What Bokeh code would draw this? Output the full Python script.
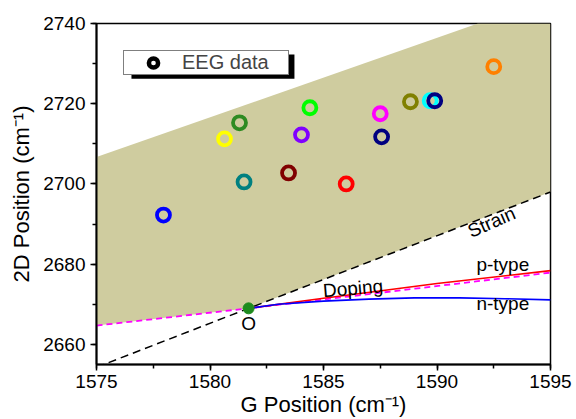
from bokeh.plotting import figure
from bokeh.models import (ColumnDataSource, Range1d, SingleIntervalTicker, Legend, LegendItem,
                          BoxAnnotation)
from bokeh.core.properties import value
from bokeh.embed import file_html
from bokeh.resources import INLINE

# ---- data ----
eeg_g = [1577.95, 1580.64, 1581.3, 1581.5, 1583.46, 1584.03, 1584.4, 1586.0,
         1587.5, 1587.56, 1588.83, 1589.7, 1589.9, 1592.5]
eeg_2d = [2692.25, 2711.25, 2715.25, 2700.5, 2702.75, 2712.25, 2719.0, 2700.0,
          2717.5, 2711.75, 2720.5, 2720.75, 2720.75, 2729.25]
eeg_colors = ["#0000FF", "#FFFF00", "#2E8B22", "#008080", "#800000", "#8000FF", "#00FF00",
              "#FF0000", "#FF00FF", "#000080", "#808000", "#00FFFF", "#000080", "#FF8000"]

origin_g = [1581.7]
origin_2d = [2669.0]

shade_g = [1575.0, 1591.8, 1595.0, 1595.0, 1581.7, 1575.0]
shade_2d = [2706.7, 2740.0, 2740.0, 2698.0, 2669.0, 2664.7]

strain_g = [1575.0, 1581.7, 1595.0]
strain_2d = [2654.3, 2669.0, 2698.0]

doping_g = [1575.0, 1581.7, 1595.0]
doping_2d = [2664.7, 2669.0, 2677.9]

ptype_g = [1581.7, 1585.0, 1590.0, 1595.0]
ptype_2d = [2669.0, 2671.5, 2675.2, 2678.4]

ntype_g = [1581.7, 1583.0, 1585.0, 1587.0, 1589.0, 1591.0, 1593.0, 1595.0]
ntype_2d = [2669.0, 2670.0, 2670.8, 2671.3, 2671.6, 2671.6, 2671.4, 2671.1]

label_text = ["Strain", "p-type", "n-type", "Doping", "O"]
label_g = [1592.4, 1592.9, 1592.9, 1586.3, 1581.7]
label_2d = [2690.5, 2680.0, 2670.2, 2674.0, 2665.2]
label_angle = [0.41, 0.0, 0.0, 0.08, 0.0]

legend_label = "EEG data"

x_ticks_interval = 5
y_ticks_interval = 20

FONT = "Liberation Sans"

p = figure(width=576, height=419, output_backend="svg", toolbar_location=None,
           x_range=Range1d(1575, 1595), y_range=Range1d(2655, 2740),
           min_border_left=96, min_border_right=26, min_border_top=23, min_border_bottom=54)
p.background_fill_color = "white"
p.border_fill_color = "white"
p.xgrid.visible = False
p.ygrid.visible = False
p.outline_line_color = "black"
p.outline_line_width = 1.5

# shaded region
p.patch(shade_g, shade_2d, fill_color="#CFCC9F", line_color=None)

# lines
p.line(strain_g, strain_2d, line_color="black", line_width=1.5, line_dash="8 5")
p.line(doping_g, doping_2d, line_color="#FF00FF", line_width=1.8, line_dash="6 4")
p.line(ptype_g, ptype_2d, line_color="#FF0000", line_width=1.6)
p.line(ntype_g, ntype_2d, line_color="#0000FF", line_width=1.6)

# origin
p.scatter(origin_g, origin_2d, size=11, fill_color="#1E8B1E", line_color="#1E8B1E")

# EEG data
src = ColumnDataSource(dict(x=eeg_g, y=eeg_2d, c=eeg_colors))
p.scatter("x", "y", source=src, size=13, fill_color=None, line_color="c", line_width=3.8)

# labels
lsrc = ColumnDataSource(dict(x=label_g, y=label_2d, t=label_text, a=label_angle))
p.text("x", "y", text="t", angle="a", source=lsrc, text_font=value(FONT),
       text_font_size="19px", text_align="center", text_baseline="middle", text_color="black")

# legend with shadow
shadow = BoxAnnotation(left=1576.54, right=1583.72, top=2732.25, bottom=2726.25,
                       fill_color="black", fill_alpha=1.0, line_color=None)
p.add_layout(shadow)
key_src = ColumnDataSource(dict(x=[float("nan")], y=[float("nan")]))
key = p.scatter("x", "y", source=key_src, size=13, fill_color=None,
                line_color="black", line_width=4.5)
legend = Legend(items=[LegendItem(label=legend_label, renderers=[key])],
                location="top_left", margin=27, padding=0, spacing=0,
                glyph_width=58, glyph_height=23, label_height=23, label_width=106,
                label_standoff=0, label_text_font=FONT, label_text_font_size="20px",
                border_line_color="black", border_line_width=1.5,
                background_fill_color="white", background_fill_alpha=1.0)
p.add_layout(legend)

# axes
for ax in (p.xaxis[0], p.yaxis[0]):
    ax.axis_line_width = 2
    ax.major_tick_line_width = 1.5
    ax.minor_tick_line_width = 1.5
    ax.major_tick_in = 0
    ax.major_tick_out = 6
    ax.minor_tick_in = 0
    ax.minor_tick_out = 4
    ax.major_label_text_font = FONT
    ax.major_label_text_font_size = "19px"
    ax.major_label_text_color = "black"
    ax.axis_label_text_font = FONT
    ax.axis_label_text_font_size = "22px"
    ax.axis_label_text_font_style = "normal"
    ax.axis_label_text_color = "black"

p.xaxis[0].ticker = SingleIntervalTicker(interval=x_ticks_interval, num_minor_ticks=2)
p.yaxis[0].ticker = SingleIntervalTicker(interval=y_ticks_interval, num_minor_ticks=2)
p.xaxis[0].axis_label = "G Position (cm\u207b\u00b9)"
p.yaxis[0].axis_label = "2D Position (cm\u207b\u00b9)"
p.xaxis[0].major_label_standoff = 4
p.xaxis[0].axis_label_standoff = 1
p.yaxis[0].major_label_standoff = 5
p.yaxis[0].axis_label_standoff = 6

open("out.html", "w").write(file_html(p, INLINE))
